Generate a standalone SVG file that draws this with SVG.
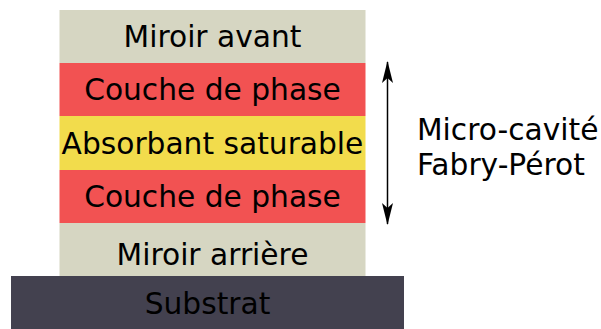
<svg xmlns="http://www.w3.org/2000/svg" width="601" height="329" viewBox="0 0 601 329">
<style>
.t{font-family:"DejaVu Sans",Verdana,sans-serif;font-size:29.7px;fill:#000;text-anchor:middle}
.l{font-family:"DejaVu Sans",Verdana,sans-serif;font-size:29.7px;fill:#000}
.g{fill:#d6d6c2}.r{fill:#f25252}.y{fill:#f2dc4c}.s{fill:#43414f}
</style>
<defs>
<marker id="ah" viewBox="0 0 22 12" refX="21" refY="6" markerWidth="22" markerHeight="12" markerUnits="userSpaceOnUse" orient="auto-start-reverse">
<path d="M22 6 L0 0.5 L5 6 L0 11.5 Z" fill="#000"/>
</marker>
</defs>
<g id="miroir-avant"><rect class="g" x="59.5" y="10" width="306" height="53"/><text class="t" x="212.5" y="46.5">Miroir avant</text></g>
<g id="couche-phase-1"><rect class="r" x="59.5" y="63" width="306" height="53"/><text class="t" x="212.5" y="100">Couche de phase</text></g>
<g id="absorbant"><rect class="y" x="59.5" y="116" width="306" height="54"/><text class="t" x="212.5" y="153.5">Absorbant saturable</text></g>
<g id="couche-phase-2"><rect class="r" x="59.5" y="170" width="306" height="53"/><text class="t" x="212.5" y="207">Couche de phase</text></g>
<g id="miroir-arriere"><rect class="g" x="59.5" y="223" width="306" height="53"/><text class="t" x="212.5" y="265">Miroir arrière</text></g>
<g id="substrat"><rect class="s" x="11" y="276" width="393" height="53"/><text class="t" x="207.5" y="314">Substrat</text></g>
<g id="connectors"><line x1="387.5" y1="62" x2="387.5" y2="224" stroke="#000" stroke-width="1.5" marker-start="url(#ah)" marker-end="url(#ah)"/></g>
<g id="label"><text class="l" x="417" y="140">Micro-cavité</text><text class="l" x="417" y="175">Fabry-Pérot</text></g>
</svg>
